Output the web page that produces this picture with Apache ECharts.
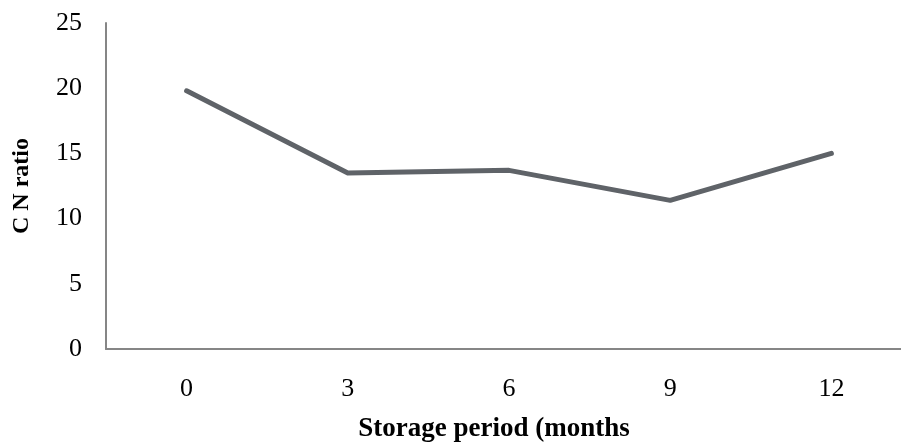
<!DOCTYPE html>
<html>
<head>
<meta charset="utf-8">
<script src="https://cdn.jsdelivr.net/npm/echarts@6/dist/echarts.min.js"></script>
<style>html,body{margin:0;padding:0;background:#fff;}#c{width:901px;height:443px;}</style>
</head>
<body>
<div id="c"></div>
<script>
const categories = ['0', '3', '6', '9', '12'];
const cnRatio = [19.8, 13.5, 13.7, 11.4, 15.0];
const yTicks = { min: 0, max: 25, interval: 5 };

const chart = echarts.init(document.getElementById('c'), null, { renderer: 'canvas' });
const font = '"Liberation Serif", "Times New Roman", serif';
chart.setOption({
  animation: false,
  backgroundColor: '#ffffff',
  grid: { left: 106, top: 23, width: 806, height: 326, containLabel: false, outerBoundsMode: 'none' },
  xAxis: {
    type: 'category',
    data: categories,
    boundaryGap: true,
    axisLine: { lineStyle: { color: '#868686', width: 2 } },
    axisTick: { show: false },
    axisLabel: { color: '#000', fontFamily: font, fontSize: 26, margin: 27 },
    name: 'Storage period (months',
    nameLocation: 'middle',
    nameGap: 67,
    nameTextStyle: { color: '#000', fontFamily: font, fontSize: 27, fontWeight: 'bold', padding: [0, 30, 0, 0] }
  },
  yAxis: {
    type: 'value',
    min: yTicks.min, max: yTicks.max, interval: yTicks.interval,
    axisLine: { show: true, lineStyle: { color: '#868686', width: 2 } },
    axisTick: { show: false },
    splitLine: { show: false },
    axisLabel: { color: '#000', fontFamily: font, fontSize: 26, margin: 24 },
    name: 'C N ratio',
    nameLocation: 'middle',
    nameGap: 72,
    nameRotate: 90,
    nameTextStyle: { color: '#000', fontFamily: font, fontSize: 24, fontWeight: 'bold' }
  },
  series: [{
    type: 'line',
    data: cnRatio,
    symbol: 'none',
    lineStyle: { color: '#5f6368', width: 5, cap: 'round', join: 'round' },
    itemStyle: { color: '#5f6368' }
  }]
});
</script>
</body>
</html>
